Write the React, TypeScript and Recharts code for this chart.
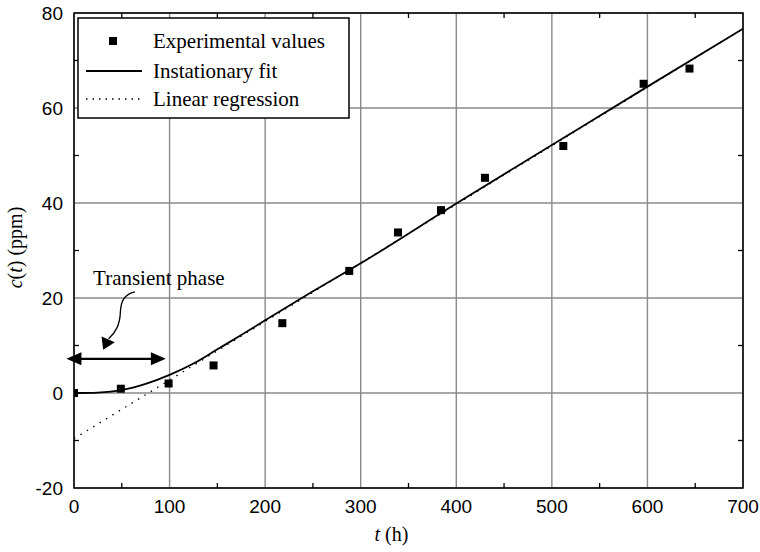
import React from "react";
import {
  ComposedChart,
  Line,
  Scatter,
  XAxis,
  YAxis,
  CartesianGrid,
  ReferenceLine,
  ReferenceArea,
  ReferenceDot
} from "recharts";

// measured concentrations
const measuredT = [0, 49, 99, 146, 218, 288, 339, 384, 430, 512, 596, 644];
const measuredC = [0, 0.9, 2.0, 5.8, 14.7, 25.7, 33.8, 38.5, 45.3, 52.0, 65.1, 68.3];

// instationary fit
const fitT = [0, 25, 50, 75, 100, 125, 150, 175, 200, 250, 300, 400, 500, 600, 700];
const fitC = [0, 0.1, 0.6, 1.9, 3.8, 6.2, 9.2, 12.2, 15.3, 21.4, 27.3, 39.9, 52.2, 64.5, 76.7];

// linear regression end points
const regT = [0, 700];
const regC = [-9.6, 76.7];

const xTicks = [0, 100, 200, 300, 400, 500, 600, 700];
const yTicks = [-20, 0, 20, 40, 60, 80];
const xMinor = [50, 150, 250, 350, 450, 550, 650];
const yMinor = [-10, 10, 30, 50, 70];

const measured = measuredT.map((t, i) => ({ t, c: measuredC[i] }));
const fit = fitT.map((t, i) => ({ t, c: fitC[i] }));
const regression = regT.map((t, i) => ({ t, c: regC[i] }));

const SERIF = "'Liberation Serif', 'Times New Roman', serif";
const SANS = "'Liberation Sans', Arial, sans-serif";

const Square = (p: any) => (
  <rect x={p.cx - 4} y={p.cy - 4} width={8} height={8} fill="#000" />
);

const DoubleArrow = (p: any) => {
  const { x1, y1, x2, y2 } = p;
  const L = 15;
  const W = 6.5;
  return (
    <g>
      <line x1={x1 + L - 2} y1={y1} x2={x2 - L + 2} y2={y2} stroke="#000" strokeWidth={2.2} />
      <polygon points={`${x1},${y1} ${x1 + L},${y1 - W} ${x1 + L},${y1 + W}`} fill="#000" />
      <polygon points={`${x2},${y2} ${x2 - L},${y2 - W} ${x2 - L},${y2 + W}`} fill="#000" />
    </g>
  );
};

const CurvyArrow = (p: any) => {
  const { x1: sx, y1: sy, x2: tx, y2: ty } = p;
  const bx = tx + 5.5;
  const by = ty - 11;
  const path = `M${sx},${sy} C${sx - 10},${sy + 2.3} ${sx - 14},${sy + 8.3} ${sx - 14.5},${sy + 20.3} C${sx - 15},${sy + 33} ${sx - 19},${sy + 40} ${bx},${by}`;
  return (
    <g>
      <path d={path} fill="none" stroke="#000" strokeWidth={1.3} />
      <polygon points={`${tx},${ty} ${tx - 1.6},${ty - 13.3} ${tx + 11.7},${ty - 7.6}`} fill="#000" />
    </g>
  );
};

const Legend = () => (
  <svg
    width={273}
    height={102}
    style={{ position: "absolute", left: 77, top: 17 }}
  >
    <rect x={1} y={1} width={271} height={100} fill="#fff" stroke="#000" strokeWidth={1.5} />
    <rect x={32} y={20} width={8} height={8} fill="#000" />
    <line x1={9} y1={54} x2={65} y2={54} stroke="#000" strokeWidth={1.8} />
    <line x1={9} y1={82} x2={65} y2={82} stroke="#000" strokeWidth={1.3} strokeDasharray="1.5 5" />
    <g fontFamily={SERIF} fontSize={21} fill="#000">
      <text x={76} y={31}>Experimental values</text>
      <text x={76} y={61}>Instationary fit</text>
      <text x={76} y={89}>Linear regression</text>
    </g>
  </svg>
);

const YTitle = (p: any) => {
  const vb = p.viewBox;
  const x = vb.x + 14.5;
  const y = vb.y + vb.height / 2 - 3;
  return (
    <text
      x={x}
      y={y}
      transform={`rotate(-90 ${x} ${y})`}
      textAnchor="middle"
      dominantBaseline="central"
      fontFamily={SERIF}
      fontSize={20}
      fill="#000"
    >
      <tspan fontStyle="italic">c</tspan>(<tspan fontStyle="italic">t</tspan>) (ppm)
    </text>
  );
};

const XTitle = (p: any) => {
  const vb = p.viewBox;
  return (
    <text
      x={vb.x + vb.width / 2 - 17}
      y={vb.y + 53}
      textAnchor="middle"
      fontFamily={SERIF}
      fontSize={20}
      fill="#000"
    >
      <tspan fontStyle="italic">t</tspan> (h)
    </text>
  );
};

const App: React.FC = () => {
  return (
    <div style={{ position: "absolute", left: 0, top: 0, width: 760, height: 552, background: "#fff" }}>
      <ComposedChart
        width={760}
        height={552}
        margin={{ top: 13, right: 17, bottom: 0, left: 0 }}
      >
        <CartesianGrid stroke="#8a8a8a" strokeWidth={1.4} />
        <XAxis
          type="number"
          dataKey="t"
          domain={[0, 700]}
          ticks={xTicks}
          interval={0}
          height={64}
          axisLine={false}
          tickLine={false}
          tickSize={0}
          tickMargin={12}
          tick={{ fill: "#000", fontSize: 19, fontFamily: SANS }}
          allowDataOverflow
          label={{ content: XTitle }}
        />
        <YAxis
          type="number"
          domain={[-20, 80]}
          ticks={yTicks}
          interval={0}
          width={74}
          axisLine={false}
          tickLine={false}
          tickSize={0}
          tickMargin={11}
          tick={{ fill: "#000", fontSize: 19, fontFamily: SANS }}
          allowDataOverflow
          label={{ content: YTitle }}
        />
        <ReferenceArea x1={0} x2={700} y1={-20} y2={80} fill="none" stroke="#000" strokeWidth={1.5} />
        {xMinor.map(t => (
          <ReferenceLine key={`b${t}`} segment={[{ x: t, y: -20 }, { x: t, y: -18.95 }]} stroke="#000" strokeWidth={1.3} />
        ))}
        {xMinor.map(t => (
          <ReferenceLine key={`t${t}`} segment={[{ x: t, y: 80 }, { x: t, y: 78.95 }]} stroke="#000" strokeWidth={1.3} />
        ))}
        {yMinor.map(c => (
          <ReferenceLine key={`l${c}`} segment={[{ x: 0, y: c }, { x: 5.2, y: c }]} stroke="#000" strokeWidth={1.3} />
        ))}
        {yMinor.map(c => (
          <ReferenceLine key={`r${c}`} segment={[{ x: 700, y: c }, { x: 694.8, y: c }]} stroke="#000" strokeWidth={1.3} />
        ))}
        <Line
          data={regression}
          dataKey="c"
          stroke="#000"
          strokeWidth={1.3}
          strokeDasharray="1.5 6"
          dot={false}
          activeDot={false}
          isAnimationActive={false}
        />
        <Line
          data={fit}
          dataKey="c"
          type="monotone"
          stroke="#000"
          strokeWidth={1.8}
          dot={false}
          activeDot={false}
          isAnimationActive={false}
        />
        <Scatter data={measured} dataKey="c" shape={Square} isAnimationActive={false} />
        <ReferenceLine
          segment={[{ x: -7.9, y: 7.2 }, { x: 96.1, y: 7.2 }]}
          ifOverflow="visible"
          shape={DoubleArrow}
        />
        <ReferenceLine
          segment={[{ x: 63.7, y: 21.3 }, { x: 30.5, y: 9.1 }]}
          ifOverflow="visible"
          shape={CurvyArrow}
        />
        <ReferenceDot
          x={88.8}
          y={22.8}
          r={0}
          ifOverflow="visible"
          shape={(p: any) => (
            <text x={p.cx} y={p.cy} textAnchor="middle" fontFamily={SERIF} fontSize={21} fill="#000">
              Transient phase
            </text>
          )}
        />
      </ComposedChart>
      <Legend />
    </div>
  );
};

export default App;
